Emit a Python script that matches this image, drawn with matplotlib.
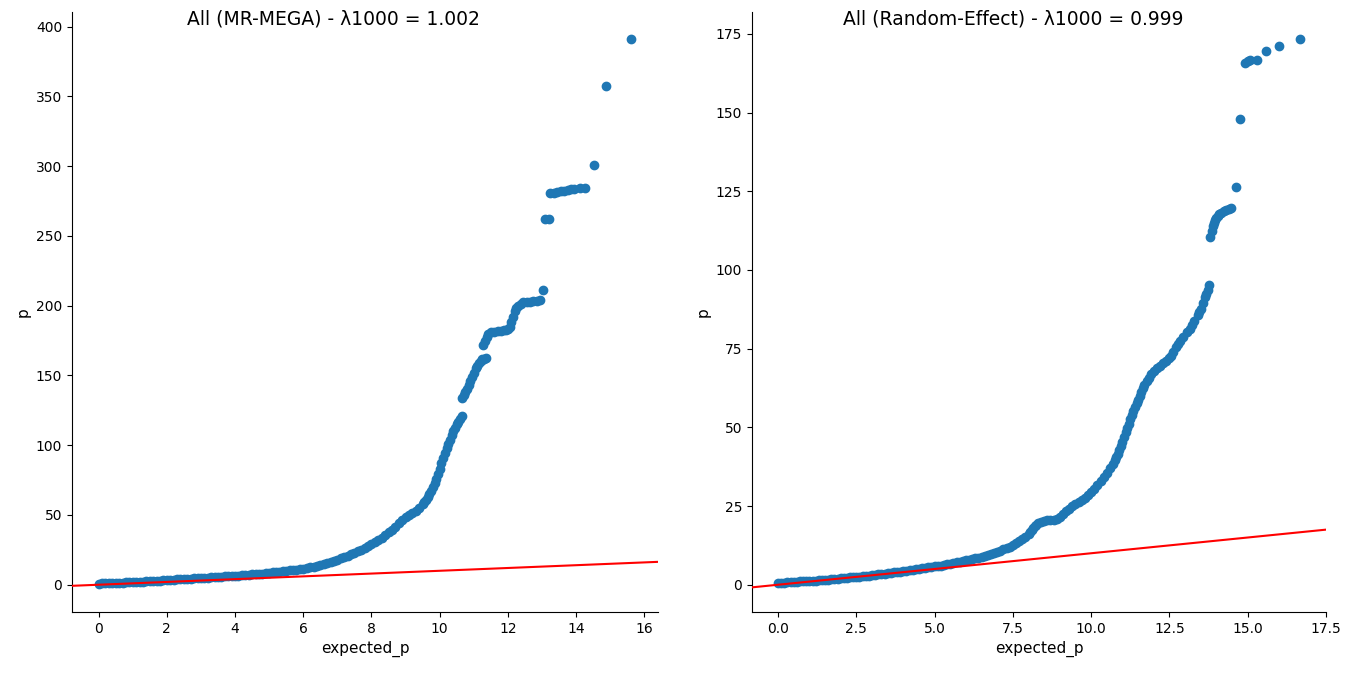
import matplotlib
matplotlib.use("Agg")
import matplotlib.pyplot as plt

# MR-MEGA qq points (expected_p, p)
mega_points = [
    (0.0, 0.8), (0.1, 0.9), (0.2, 1.0), (0.3, 1.1), (0.4, 1.2), (0.5, 1.3), (0.6, 1.4),
    (0.7, 1.5), (0.8, 1.6), (0.9, 1.8), (1.0, 1.9), (1.1, 2.0), (1.2, 2.2), (1.3, 2.3),
    (1.4, 2.5), (1.5, 2.6), (1.6, 2.7), (1.7, 2.9), (1.8, 3.0), (1.9, 3.2), (2.0, 3.3),
    (2.1, 3.5), (2.2, 3.6), (2.3, 3.8), (2.4, 3.9), (2.5, 4.0), (2.6, 4.2), (2.7, 4.3),
    (2.8, 4.5), (2.9, 4.6), (3.0, 4.8), (3.1, 4.9), (3.2, 5.1), (3.3, 5.3), (3.4, 5.4),
    (3.5, 5.6), (3.6, 5.8), (3.7, 5.9), (3.8, 6.1), (3.9, 6.3), (4.0, 6.4), (4.1, 6.6),
    (4.2, 6.8), (4.3, 7.0), (4.4, 7.2), (4.5, 7.4), (4.6, 7.6), (4.7, 7.8), (4.8, 8.0),
    (4.9, 8.3), (5.0, 8.5), (5.1, 8.8), (5.2, 9.0), (5.3, 9.3), (5.4, 9.6), (5.5, 9.9),
    (5.6, 10.2), (5.7, 10.5), (5.8, 10.8), (5.9, 11.1), (6.0, 11.5), (6.1, 12.0),
    (6.2, 12.5), (6.3, 13.0), (6.4, 13.6), (6.5, 14.3), (6.6, 15.0), (6.7, 15.7),
    (6.8, 16.5), (6.9, 17.2), (7.0, 18.0), (7.1, 18.9), (7.2, 19.8), (7.3, 20.8),
    (7.4, 21.8), (7.5, 22.9), (7.6, 24.0), (7.7, 25.2), (7.8, 26.5), (7.9, 27.7),
    (8.0, 29.0), (8.1, 30.5), (8.2, 32.0), (8.3, 33.7), (8.4, 35.5), (8.5, 37.5),
    (8.6, 39.5), (8.7, 41.7), (8.8, 44.0), (8.9, 46.3), (9.0, 48.5), (9.1, 50.2),
    (9.2, 51.5), (9.3, 53.0), (9.4, 55.0), (9.5, 58.0), (9.55, 59.5), (9.6, 61.0),
    (9.65, 63.0), (9.7, 65.0), (9.75, 67.5), (9.8, 70.0), (9.85, 73.0), (9.9, 76.0),
    (9.95, 79.5), (10.0, 83.0), (10.05, 87.0), (10.1, 91.0), (10.15, 94.5), (10.2, 98.0),
    (10.25, 101.0), (10.3, 104.0), (10.35, 107.0), (10.4, 110.0), (10.45, 112.5),
    (10.5, 115.0), (10.55, 117.0), (10.6, 119.0), (10.65, 121.0),
    (10.65, 134.0), (10.7, 136.0), (10.75, 138.0), (10.8, 140.5), (10.85, 143.0),
    (10.9, 146.0), (10.95, 149.0), (11.0, 152.0), (11.05, 155.0), (11.1, 157.0),
    (11.15, 159.0), (11.2, 160.5), (11.25, 161.5), (11.3, 162.0), (11.37, 162.5),
    (11.28, 172.0), (11.33, 175.0), (11.38, 177.5), (11.43, 180.0), (11.5, 181.0),
    (11.6, 181.5), (11.7, 181.8), (11.8, 182.0), (11.9, 182.3), (11.95, 182.5),
    (12.0, 183.5), (12.05, 185.0), (12.1, 188.0), (12.15, 192.0), (12.2, 196.0),
    (12.25, 198.5), (12.3, 200.0), (12.38, 201.5), (12.45, 202.5), (12.55, 203.0),
    (12.65, 203.0), (12.75, 203.5), (12.85, 203.5), (12.95, 204.0),
    (13.03, 211.0), (13.08, 262.5), (13.2, 262.5),
    (13.24, 280.5), (13.35, 281.0), (13.45, 281.5), (13.55, 282.0), (13.65, 282.5),
    (13.75, 283.0), (13.85, 283.5), (13.95, 284.0), (14.1, 284.2), (14.25, 284.5),
    (14.52, 301.0), (14.89, 357.5), (15.62, 391.0),
]

# Random-Effect qq points
re_points = [
    (0.0, 0.5), (0.1, 0.6), (0.2, 0.7), (0.3, 0.8), (0.4, 0.9), (0.5, 0.95), (0.6, 1.0),
    (0.7, 1.05), (0.8, 1.1), (0.9, 1.15), (1.0, 1.2), (1.1, 1.25), (1.2, 1.3),
    (1.3, 1.35), (1.4, 1.4), (1.5, 1.5), (1.6, 1.6), (1.7, 1.7), (1.8, 1.8), (1.9, 1.9),
    (2.0, 2.0), (2.1, 2.1), (2.2, 2.2), (2.3, 2.3), (2.4, 2.4), (2.5, 2.5), (2.6, 2.6),
    (2.7, 2.7), (2.8, 2.8), (2.9, 2.9), (3.0, 3.0), (3.1, 3.15), (3.2, 3.3), (3.3, 3.4),
    (3.4, 3.5), (3.5, 3.65), (3.6, 3.8), (3.7, 3.9), (3.8, 4.0), (3.9, 4.15), (4.0, 4.3),
    (4.1, 4.45), (4.2, 4.6), (4.3, 4.75), (4.4, 4.9), (4.5, 5.05), (4.6, 5.2),
    (4.7, 5.35), (4.8, 5.5), (4.9, 5.65), (5.0, 5.8), (5.1, 5.95), (5.2, 6.1), (5.3, 6.3),
    (5.4, 6.5), (5.5, 6.7), (5.6, 6.9), (5.7, 7.1), (5.8, 7.3), (5.9, 7.5), (6.0, 7.7),
    (6.1, 7.9), (6.2, 8.1), (6.3, 8.35), (6.4, 8.6), (6.5, 8.85), (6.6, 9.1), (6.7, 9.4),
    (6.8, 9.7), (6.9, 10.05), (7.0, 10.4), (7.1, 10.8), (7.2, 11.2), (7.3, 11.65),
    (7.4, 12.1), (7.5, 12.6), (7.6, 13.2), (7.7, 13.8), (7.8, 14.5), (7.9, 15.3),
    (8.0, 16.2), (8.05, 16.8), (8.1, 17.4), (8.15, 18.0), (8.2, 18.6), (8.25, 19.1),
    (8.3, 19.5), (8.4, 20.0), (8.5, 20.3), (8.6, 20.5), (8.7, 20.6), (8.8, 20.7),
    (8.9, 20.9), (9.0, 21.6), (9.1, 22.5), (9.2, 23.4), (9.3, 24.2), (9.4, 25.0),
    (9.5, 25.8), (9.6, 26.4), (9.7, 27.0), (9.8, 27.7), (9.9, 28.5), (10.0, 29.5),
    (10.1, 30.5), (10.2, 31.7), (10.3, 33.0), (10.4, 34.2), (10.5, 35.5), (10.6, 37.0),
    (10.7, 38.5), (10.75, 39.5), (10.8, 40.5), (10.85, 41.5), (10.9, 42.8),
    (10.95, 44.2), (11.0, 45.5), (11.05, 47.0), (11.1, 48.5), (11.15, 49.8),
    (11.2, 51.2), (11.25, 52.5), (11.3, 53.8), (11.35, 55.2), (11.4, 56.5),
    (11.45, 57.7), (11.5, 58.8), (11.55, 60.0), (11.6, 61.2), (11.65, 62.4),
    (11.7, 63.5), (11.78, 64.7), (11.85, 65.8), (11.92, 66.8), (12.0, 67.8),
    (12.1, 68.7), (12.2, 69.6), (12.3, 70.4), (12.4, 71.2), (12.48, 72.0),
    (12.55, 72.8), (12.62, 74.0), (12.7, 75.5), (12.78, 76.5), (12.85, 77.5),
    (12.95, 78.8), (13.05, 80.2), (13.15, 81.4), (13.22, 82.5), (13.3, 83.8),
    (13.4, 85.6), (13.46, 86.5), (13.52, 87.7), (13.58, 89.5), (13.63, 91.4),
    (13.68, 92.5), (13.72, 93.5), (13.76, 95.1),
    (13.81, 110.5), (13.85, 112.5), (13.88, 114.0), (13.92, 115.0), (13.95, 115.8),
    (14.0, 116.5), (14.05, 117.2), (14.1, 117.7), (14.16, 118.2), (14.24, 118.6),
    (14.32, 119.0), (14.4, 119.3), (14.48, 119.7), (14.62, 126.4), (14.76, 148.0),
    (14.91, 165.9), (15.0, 166.3), (15.09, 166.6), (15.3, 166.8), (15.6, 169.7),
    (15.99, 171.1), (16.67, 173.3),
]

titles = ["All (MR-MEGA) - λ1000 = 1.002", "All (Random-Effect) - λ1000 = 0.999"]

W, H = 1351, 673
fig = plt.figure(figsize=(W / 100, H / 100), dpi=100)
ax1 = fig.add_axes([72 / W, 61 / H, 586 / W, 600 / H])
ax2 = fig.add_axes([752 / W, 61 / H, 574 / W, 600 / H])

for ax, pts in [(ax1, mega_points), (ax2, re_points)]:
    xs = [p[0] for p in pts]
    ys = [p[1] for p in pts]
    ax.scatter(xs, ys, color="#1f77b4", s=36, zorder=2)
    # y = x reference line over the whole axis
    ax.axline((0, 0), slope=1, color="red", linewidth=1.5, zorder=3)
    ax.set_xlabel("expected_p", fontsize=11)
    ax.set_ylabel("p", fontsize=11)
    ax.tick_params(labelsize=10)
    ax.spines["top"].set_visible(False)
    ax.spines["right"].set_visible(False)

# each title was a suptitle of its own figure, so centred on the half, not the axes
fig.text(333 / W, 1 - 19 / H, titles[0], ha="center", va="center", fontsize=13.5)
fig.text(1013 / W, 1 - 19 / H, titles[1], ha="center", va="center", fontsize=13.5)

fig.savefig("out.png", dpi=100)
